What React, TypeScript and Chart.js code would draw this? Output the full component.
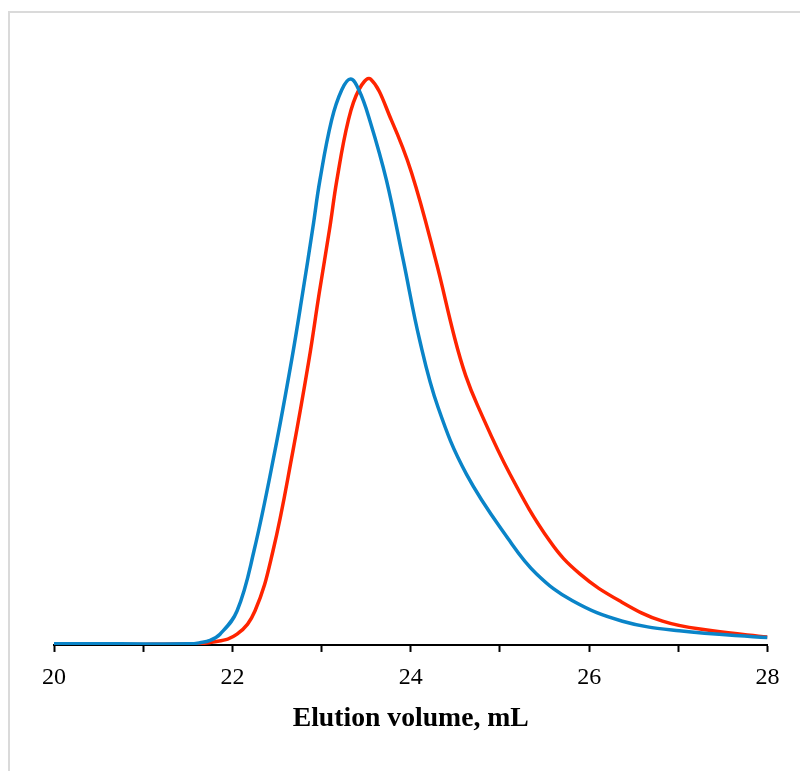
import React, { useEffect, useRef } from "react";
import { Chart, registerables } from "chart.js";

Chart.register(...registerables);

// Elution volume (mL) and normalised detector signal
const blueX = [20.0, 20.74, 21.525, 21.637, 21.749, 21.861, 22.052, 22.242, 22.477, 22.664, 22.787, 22.903, 22.981, 23.112, 23.227, 23.325, 23.418, 23.541, 23.728, 23.916, 24.101, 24.306, 24.624, 25.109, 25.408, 25.814, 26.374, 27.012, 28.0];
const blueY = [0.002, 0.002, 0.002, 0.004, 0.008, 0.019, 0.06, 0.166, 0.343, 0.503, 0.621, 0.738, 0.821, 0.927, 0.981, 1.0, 0.981, 0.927, 0.821, 0.68, 0.538, 0.42, 0.302, 0.184, 0.126, 0.078, 0.042, 0.025, 0.013];

const redX = [20.0, 21.0, 21.5, 21.783, 22.052, 22.253, 22.455, 22.679, 22.858, 22.973, 23.093, 23.171, 23.3, 23.418, 23.549, 23.784, 24.008, 24.28, 24.493, 24.616, 24.75, 25.109, 25.557, 25.893, 26.341, 26.823, 27.383, 28.0];
const redY = [0.001, 0.001, 0.002, 0.005, 0.019, 0.06, 0.166, 0.343, 0.503, 0.621, 0.738, 0.821, 0.927, 0.981, 1.0, 0.927, 0.835, 0.68, 0.542, 0.476, 0.423, 0.303, 0.184, 0.126, 0.078, 0.042, 0.025, 0.014];

const xMin = 20;
const xMax = 28;
const labelledTicks = [20, 22, 24, 26, 28];
const xTitle = "Elution volume, mL";

const BLUE = "#0a84c8";
const RED = "#ff2400";

export default function App() {
  const ref = useRef<HTMLCanvasElement | null>(null);

  useEffect(() => {
    if (!ref.current) return;
    const chart = new Chart(ref.current, {
      type: "line",
      data: {
        datasets: [
          {
            label: "blue",
            data: blueX.map((x, i) => ({ x, y: blueY[i] })),
            borderColor: BLUE,
            borderWidth: 3.5,
            pointRadius: 0,
            tension: 0.4,
            fill: false,
          },
          {
            label: "red",
            data: redX.map((x, i) => ({ x, y: redY[i] })),
            borderColor: RED,
            borderWidth: 3.5,
            pointRadius: 0,
            tension: 0.4,
            fill: false,
          },
        ],
      },
      options: {
        responsive: false,
        animation: false,
        layout: { padding: { left: 54, right: 32.5, top: 22.5, bottom: 36 } },
        plugins: { legend: { display: false }, tooltip: { enabled: false } },
        scales: {
          x: {
            type: "linear",
            min: xMin,
            max: xMax,
            border: { display: true, color: "#000", width: 2 },
            grid: {
              drawOnChartArea: false,
              drawTicks: true,
              tickLength: 7,
              tickColor: "#000",
              tickWidth: 2,
            },
            ticks: {
              stepSize: 1,
              autoSkip: false,
              maxRotation: 0,
              padding: 11,
              color: "#000",
              font: { family: "'Liberation Serif'", size: 24 },
              callback: (v: any) => (labelledTicks.includes(Number(v)) ? String(v) : ""),
            },
            title: {
              display: true,
              text: xTitle,
              color: "#000",
              padding: { top: -1, bottom: 0 },
              font: { family: "'Liberation Serif'", size: 27.7, weight: "bold" },
            },
          },
          y: { display: false, min: 0, max: 1.1 },
        },
      },
    });
    return () => chart.destroy();
  }, []);

  return (
    <div>
      <div
        style={{
          position: "absolute",
          left: 8,
          top: 11,
          width: 792,
          height: 760,
          boxSizing: "border-box",
          borderTop: "2px solid #dadada",
          borderLeft: "2px solid #dadada",
        }}
      />
      <div style={{ position: "absolute", left: 0, top: 0, width: 800, height: 771 }}>
        <canvas ref={ref} width={800} height={771} style={{ display: "block" }} />
      </div>
    </div>
  );
}
